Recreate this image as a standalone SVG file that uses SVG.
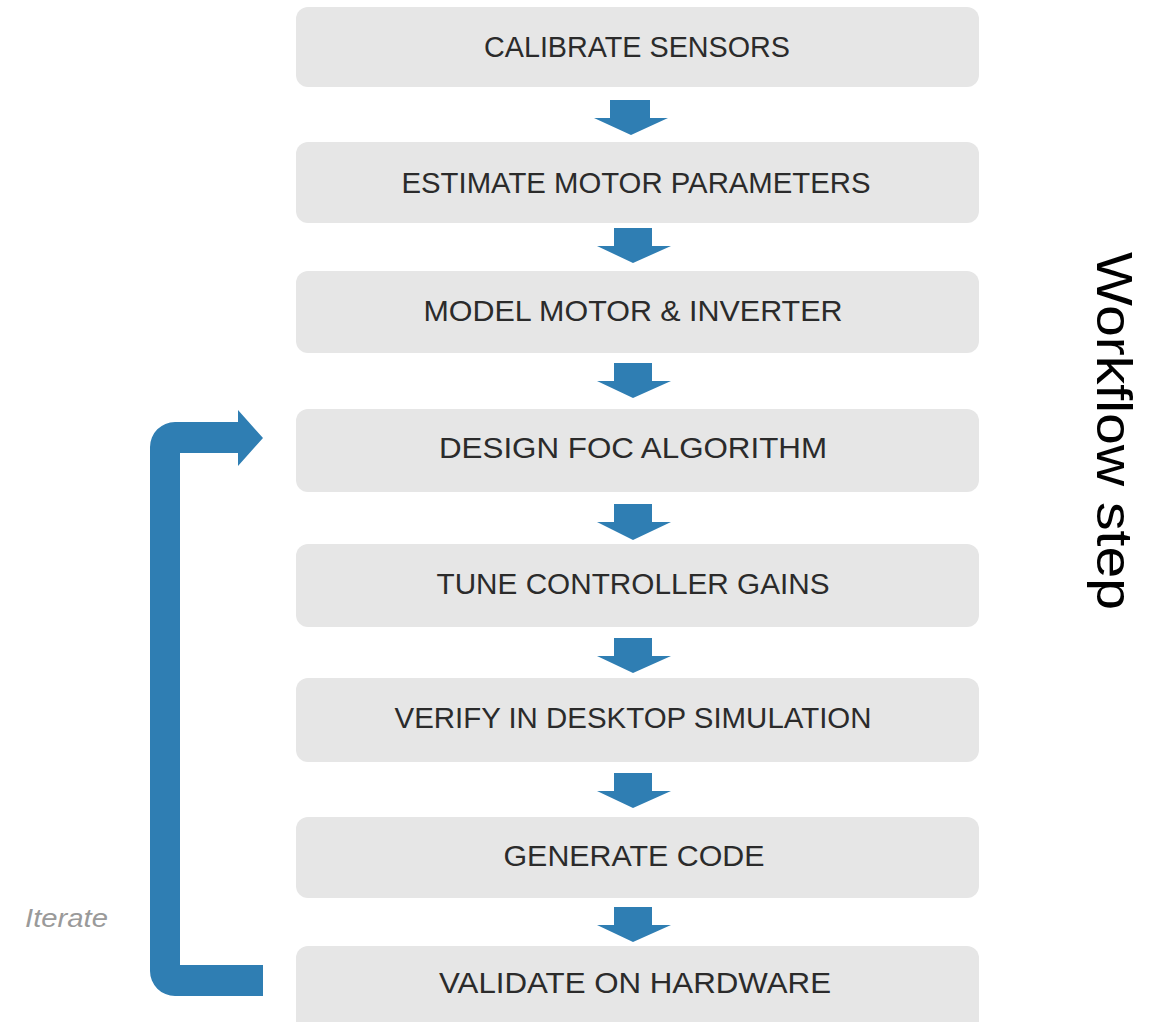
<svg xmlns="http://www.w3.org/2000/svg" width="1153" height="1022" viewBox="0 0 1153 1022">
<style>
.box{fill:#e6e6e6}
.lbl{font-family:"Liberation Sans",Arial,sans-serif;font-size:29px;fill:#2b2b2b;text-anchor:middle}
.arr{fill:#2f7eb3}
</style>
<defs>
<polygon id="dn" points="-19,0 19,0 19,18 38,18 0,35 -36,18 -19,18"/>
</defs>
<rect width="1153" height="1022" fill="#ffffff"/>
<g id="connectors">
<polygon class="arr" points="610,100 650,100 650,118 668,118 631,135 594,118 610,118"/>
<polygon class="arr" points="614,228 652,228 652,246 671,246 633,263 597,246 614,246"/>
<polygon class="arr" points="614,363 652,363 652,381 671,381 633,398 597,381 614,381"/>
<polygon class="arr" points="614,504 652,504 652,522 671,522 633,540 597,522 614,522"/>
<polygon class="arr" points="614,638 652,638 652,656 671,656 633,673 597,656 614,656"/>
<polygon class="arr" points="614,773 652,773 652,791 671,791 633,808 597,791 614,791"/>
<polygon class="arr" points="614,907 652,907 652,925 671,925 633,942 597,925 614,925"/>
<path id="loop" class="arr" d="M263,965 L180,965 L180,453 L238,453 L238,466 L263,438 L238,410 L238,422 L175,422 A25,25 0 0 0 150,447 L150,971 A25,25 0 0 0 175,996 L263,996 Z"/>
</g>
<g id="n1"><rect class="box" x="296" y="7" width="683" height="80" rx="12"/><text class="lbl" x="637" y="57" textLength="306" lengthAdjust="spacingAndGlyphs">CALIBRATE SENSORS</text></g>
<g id="n2"><rect class="box" x="296" y="142" width="683" height="81" rx="12"/><text class="lbl" x="636" y="193" textLength="469" lengthAdjust="spacingAndGlyphs">ESTIMATE MOTOR PARAMETERS</text></g>
<g id="n3"><rect class="box" x="296" y="271" width="683" height="82" rx="12"/><text class="lbl" x="633" y="321" textLength="419" lengthAdjust="spacingAndGlyphs">MODEL MOTOR &amp; INVERTER</text></g>
<g id="n4"><rect class="box" x="296" y="409" width="683" height="83" rx="12"/><text class="lbl" x="633" y="458" textLength="388" lengthAdjust="spacingAndGlyphs">DESIGN FOC ALGORITHM</text></g>
<g id="n5"><rect class="box" x="296" y="544" width="683" height="83" rx="12"/><text class="lbl" x="633" y="594" textLength="393" lengthAdjust="spacingAndGlyphs">TUNE CONTROLLER GAINS</text></g>
<g id="n6"><rect class="box" x="296" y="678" width="683" height="84" rx="12"/><text class="lbl" x="633" y="728" textLength="477" lengthAdjust="spacingAndGlyphs">VERIFY IN DESKTOP SIMULATION</text></g>
<g id="n7"><rect class="box" x="296" y="817" width="683" height="81" rx="12"/><text class="lbl" x="634" y="866" textLength="261" lengthAdjust="spacingAndGlyphs">GENERATE CODE</text></g>
<g id="n8"><rect class="box" x="296" y="946" width="683" height="90" rx="12"/><text class="lbl" x="635" y="993" textLength="392" lengthAdjust="spacingAndGlyphs">VALIDATE ON HARDWARE</text></g>
<text x="25" y="927" font-family="'Liberation Sans',Arial,sans-serif" font-size="26" font-style="italic" fill="#9a9a9a" textLength="83" lengthAdjust="spacingAndGlyphs">Iterate</text>
<text transform="translate(1097,252) rotate(90)" x="0" y="0" font-family="'Liberation Sans',Arial,sans-serif" font-size="50" fill="#000000" textLength="358" lengthAdjust="spacingAndGlyphs">Workflow step</text>
</svg>
